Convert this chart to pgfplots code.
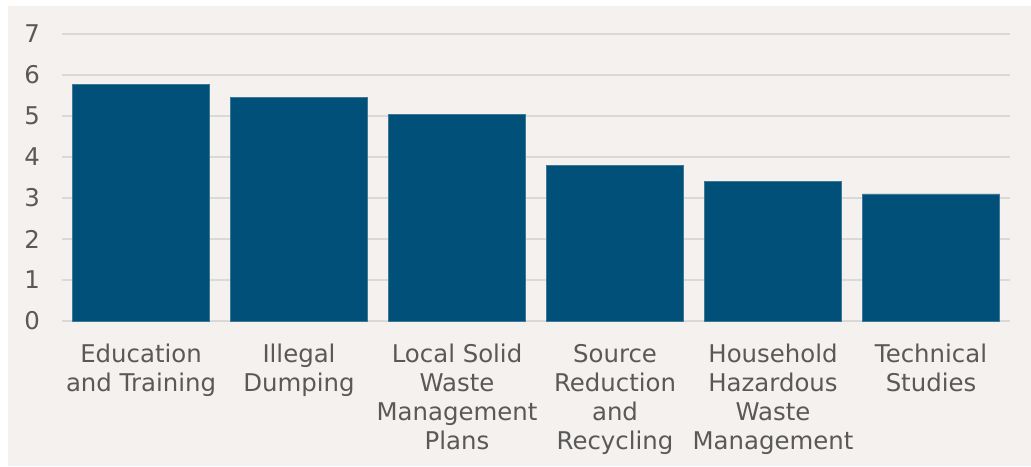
\documentclass[border=0pt]{standalone}
\usepackage{pgfplots}
\pgfplotsset{compat=1.18}
\usepackage{fontspec}
\setmainfont{DejaVu Sans}
\definecolor{barblue}{HTML}{00507A}
\definecolor{baredge}{HTML}{3F7896}
\definecolor{panel}{HTML}{F4F1EE}
\definecolor{gridc}{HTML}{D9D9D9}
\definecolor{txt}{HTML}{595959}
\begin{document}
\begin{tikzpicture}
\path[use as bounding box, fill=white] (-31pt,-72.5pt) rectangle (484.5pt,160.5pt);
\fill[panel] (-27pt,-72.5pt) rectangle (484.5pt,157.5pt);
\begin{axis}[
  at={(0,0)}, anchor=south west,
  scale only axis,
  width=474pt, height=143.5pt,
  xmin=-0.5, xmax=5.5, ymin=0, ymax=7,
  axis line style={draw=none},
  ytick={0,1,2,3,4,5,6,7},
  xtick={0,1,2,3,4,5},
  xticklabels={{Education\\and Training},{Illegal\\Dumping},{Local Solid\\Waste\\Management\\Plans},{Source\\Reduction\\and\\Recycling},{Household\\Hazardous\\Waste\\Management},{Technical\\Studies}},
  major tick length=0pt,
  ymajorgrids,
  grid style={draw=gridc, line width=1pt},
  tick label style={font=\fontsize{12.2}{14.5}\selectfont, text=txt},
  xticklabel style={align=center, anchor=north, yshift=-8pt},
  yticklabel style={anchor=east, xshift=-7.5pt},
  /pgf/number format/assume math mode=true,
  axis on top=false,
]
\addplot[ybar, bar width=68.5pt, fill=barblue, draw=baredge, line width=0.4pt]
  coordinates {(0,5.76) (1,5.46) (2,5.03) (3,3.80) (4,3.41) (5,3.10)};
\end{axis}
\end{tikzpicture}
\end{document}
